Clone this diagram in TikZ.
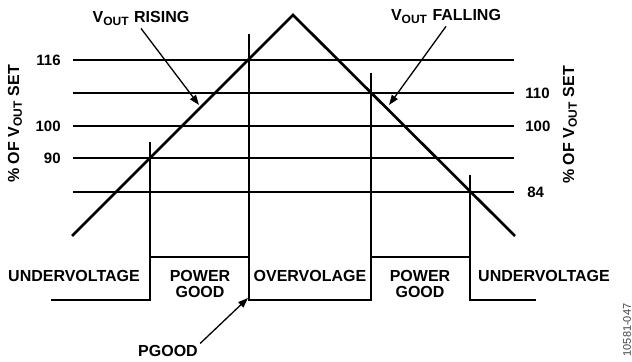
\documentclass[tikz,border=0pt]{standalone}
\usepackage{fontspec}
\setmainfont{Liberation Sans}
\usetikzlibrary{positioning,arrows.meta,calc}
\newcommand{\vout}{V\textsubscript{OUT}}

\begin{document}
\begin{tikzpicture}[
  x=0.5pt, y=-0.5pt,
  every node/.style={font=\fontsize{8}{8}\selectfont\bfseries, inner sep=1pt},
  level label/.style={font=\fontsize{7.5}{8}\selectfont\bfseries},
  grid line/.style={draw,line width=0.6pt},
  signal/.style={draw,line width=1.35pt,line join=miter},
  callout/.style={draw,line width=0.65pt,-{Triangle[length=5pt,width=3.6pt]}}
]
  \useasboundingbox (0,0) rectangle (632,362);

  % threshold levels
  \foreach \lvl/\yy in {116/60,110/93,100/126,90/158,84/192} {
    \coordinate (gl\lvl) at (73,\yy);
    \coordinate (gr\lvl) at (514,\yy);
    \draw[grid line] (gl\lvl)--(gr\lvl);
  }
  \node[level label,anchor=east] (l116) at (63,60)  {116};
  \node[level label,anchor=east] (l100) at (63,126) {100};
  \node[level label,anchor=east] (l90)  at (63,158) {90};
  \node[level label,anchor=west] (r110) at (523,93)  {110};
  \node[level label,anchor=west] (r100) at (523,126) {100};
  \node[level label,anchor=west] (r84)  at (525,192) {84};

  \node[rotate=90] (yleft)  at (15,124)  {\% OF \vout{} SET};
  \node[rotate=90] (yright) at (570,125) {\% OF \vout{} SET};

  % output voltage ramp
  \coordinate (vlo)  at (72,236);
  \coordinate (vtop) at (293,15);
  \coordinate (vhi)  at (515,236);
  \draw[signal] (vlo)--(vtop)--(vhi);

  % crossing markers
  \coordinate (c90)  at (150,142);
  \coordinate (c116) at (249,34);
  \coordinate (c110) at (371,73);
  \coordinate (c84)  at (470,175);

  % pgood signal
  \coordinate (p0) at (51,300);
  \coordinate (p1) at (150,300);
  \coordinate (p2) at (150,257);
  \coordinate (p3) at (249,257);
  \coordinate (p4) at (249,300);
  \coordinate (p5) at (371,300);
  \coordinate (p6) at (371,257);
  \coordinate (p7) at (470,257);
  \coordinate (p8) at (470,300);
  \coordinate (p9) at (536,300);
  \draw[signal] (p0)--(p1)--(p2)--(p3)--(p4)--(p5)--(p6)--(p7)--(p8)--(p9);

  \draw[grid line] (c90)--(p2);
  \draw[grid line] (c116)--(p3);
  \draw[grid line] (c110)--(p6);
  \draw[grid line] (c84)--(p7);

  \node[anchor=base] (uvl)  at (74,282)  {UNDERVOLTAGE};
  \node[anchor=base,align=center] (pg1) at (200,298) {POWER\\GOOD};
  \node[anchor=base] (ovl)  at (310,282) {OVERVOLAGE};
  \node[anchor=base,align=center] (pg2) at (420,298) {POWER\\GOOD};
  \node[anchor=base] (uvr)  at (544,282) {UNDERVOLTAGE};

  % callouts
  \node[anchor=base] (rising)  at (141,23) {\vout{} RISING};
  \node[anchor=base] (falling) at (446,21) {\vout{} FALLING};
  \node[anchor=base] (pgood)   at (168,357) {PGOOD};
  \coordinate (risetip) at (199,105);
  \coordinate (falltip) at (389,105);
  \coordinate (pgtip)   at (248,298);
  \draw[callout] (rising.south)--(risetip);
  \draw[callout] (falling.south)--(falltip);
  \draw[callout] (pgood.north east)--(pgtip);

  \node[rotate=90,font=\fontsize{5.5}{6}\selectfont,text=black!75] (figid) at (627,330) {10581-047};
\end{tikzpicture}
\end{document}
